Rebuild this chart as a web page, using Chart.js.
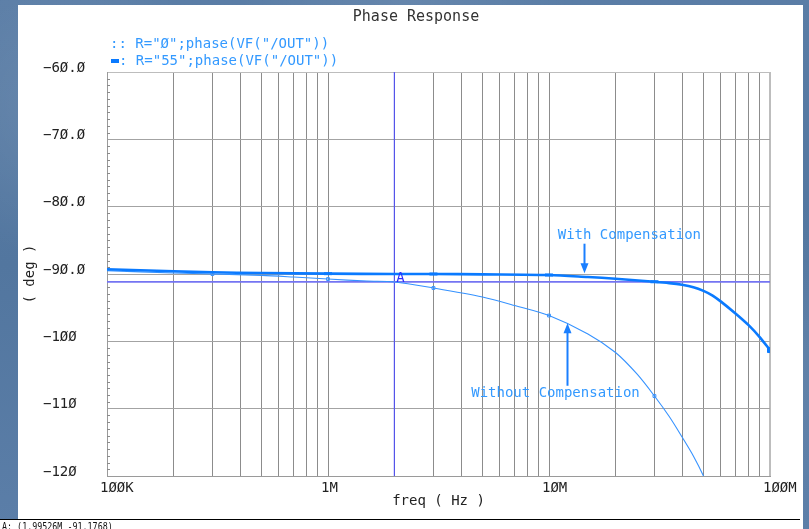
<!DOCTYPE html>
<html>
<head>
<meta charset="utf-8">
<script src="https://cdn.jsdelivr.net/npm/chart.js@4.4.1/dist/chart.umd.min.js"></script>
<style>
  html, body { margin: 0; padding: 0; width: 809px; height: 529px; overflow: hidden; }
  body {
    background:
      radial-gradient(circle at 8% 20%, rgba(255,255,255,0.10), rgba(255,255,255,0) 18%),
      radial-gradient(circle at 95% 70%, rgba(255,255,255,0.08), rgba(255,255,255,0) 20%),
      radial-gradient(circle at 50% 0%, rgba(255,255,255,0.07), rgba(255,255,255,0) 25%),
      linear-gradient(180deg, #5a7da6 0%, #52769f 50%, #5b7ea8 100%);
  }
  canvas { position: absolute; left: 0; top: 0; }
</style>
</head>
<body>
<canvas id="c" width="809" height="529"></canvas>
<script>
// Phase of V(/OUT) for the two resistor values, degrees versus frequency in Hz
const freqWith = [1e5, 2e5, 3e5, 5e5, 1e6, 2e6, 3e6, 5e6, 1e7, 1.5e7, 2e7, 3e7, 3.5e7, 4e7, 4.5e7, 5e7, 5.5e7, 6e7, 7e7, 8e7, 9e7, 1e8];
const phaseWith = [-89.3, -89.6, -89.75, -89.85, -89.95, -90.0, -90.0, -90.05, -90.15, -90.45, -90.7, -91.15, -91.35, -91.6, -91.95, -92.5, -93.2, -94.1, -95.9, -97.6, -99.4, -101.3];

const freqWithout = [1e5, 2e5, 3e5, 5e5, 7e5, 1e6, 1.5e6, 2e6, 3e6, 5e6, 7e6, 1e7, 1.5e7, 2e7, 2.5e7, 3e7, 3.5e7, 4e7, 4.5e7, 5e7, 5.5e7];
const phaseWithout = [-89.5, -89.85, -90.0, -90.2, -90.45, -90.75, -91.05, -91.18, -92.08, -93.42, -94.68, -96.17, -98.9, -101.66, -104.85, -108.12, -111.17, -114.21, -117.03, -120.0, -123.2];

// frequencies that carry a symbol on each trace
const markersWith = [1e6, 3e6, 1e7, 3e7];
const endMarkerWith = [1e8];
const markersWithout = [3e5, 1e6, 3e6, 1e7, 3e7];

const seriesLabels = ['R="Ø";phase(VF("/OUT"))', 'R="55";phase(VF("/OUT"))'];

// axis ticks
const xTickValues = [1e5, 1e6, 1e7, 1e8];
const xTickLabels = ['1ØØK', '1M', '1ØM', '1ØØM'];
const yTickValues = [-60, -70, -80, -90, -100, -110, -120];
const yTickLabels = ['−6Ø.Ø', '−7Ø.Ø', '−8Ø.Ø', '−9Ø.Ø', '−1ØØ', '−11Ø', '−12Ø'];

// cursor A
const cursorFreq = 1.99526e6;
const cursorPhase = -91.1768;
const cursorReadout = 'A: (1.99526M -91.1768)';

// callouts, placed in data units
const callouts = [
  { text: 'With Compensation', textFreq: 2.31e7, textPhase: -84.2, arrowFreq: 1.44e7, fromPhase: -85.5, toPhase: -89.9 },
  { text: 'Without Compensation', textFreq: 1.07e7, textPhase: -107.7, arrowFreq: 1.21e7, fromPhase: -106.6, toPhase: -97.3 }
];

const MONO = '"DejaVu Sans Mono", monospace';
const COL_THICK = '#0a7aff';
const COL_THIN = '#3592ff';
const COL_TEXT = '#3399ff';

// log grid: every integer multiple within each decade
const gridFreqs = [];
for (let d = 1e5; d < 1e8; d *= 10) {
  for (let m = 1; m <= 9; m++) gridFreqs.push(m * d);
}
gridFreqs.push(1e8);

const pts = (xs, ys) => xs.map((x, i) => ({ x: x, y: ys[i] }));
const near = (list, v) => list.some(f => Math.abs(f - v) / f < 1e-6);

const panelPlugin = {
  id: 'panel',
  beforeDraw(chart) {
    const c = chart.ctx;
    c.save();
    c.fillStyle = '#ffffff';
    c.fillRect(18, 5, 785, 515);
    c.fillRect(0, 519, 803, 10);
    c.strokeStyle = '#000000';
    c.lineWidth = 1;
    c.beginPath();
    c.moveTo(0, 519.5);
    c.lineTo(800, 519.5);
    c.stroke();
    c.restore();
  },
  beforeDatasetsDraw(chart) {
    // minor degree ticks along the left edge
    const c = chart.ctx, y = chart.scales.y, left = chart.chartArea.left;
    c.save();
    c.strokeStyle = '#8a8a8a';
    c.lineWidth = 1;
    for (let v = -119; v < -60; v++) {
      if (v % 10 === 0) continue;
      const py = Math.round(y.getPixelForValue(v)) + 0.5;
      c.beginPath();
      c.moveTo(left, py);
      c.lineTo(left + 3, py);
      c.stroke();
    }
    c.restore();
  },
  afterDraw(chart) {
    const c = chart.ctx, xs = chart.scales.x, ys = chart.scales.y;
    c.save();
    // title
    c.fillStyle = '#333333';
    c.font = '15px ' + MONO;
    c.textAlign = 'center';
    c.textBaseline = 'middle';
    c.fillText('Phase Response', 416, 17);

    // series key
    c.font = '14px ' + MONO;
    c.textAlign = 'left';
    c.fillStyle = COL_TEXT;
    c.fillText(':: ' + seriesLabels[0], 110, 44);
    c.fillStyle = COL_THICK;
    c.fillRect(111, 59, 8, 4);
    c.fillStyle = COL_TEXT;
    c.fillText(': ' + seriesLabels[1], 119, 61);

    // y axis title
    c.save();
    c.fillStyle = '#222222';
    c.font = '14px ' + MONO;
    c.translate(30, (chart.chartArea.top + chart.chartArea.bottom) / 2);
    c.rotate(-Math.PI / 2);
    c.textAlign = 'center';
    c.textBaseline = 'middle';
    c.fillText('( deg )', 0, 0);
    c.restore();

    // cursor tag
    const cx = xs.getPixelForValue(cursorFreq), cy = ys.getPixelForValue(cursorPhase);
    c.fillStyle = '#2b2bff';
    c.font = '14px ' + MONO;
    c.textAlign = 'left';
    c.textBaseline = 'alphabetic';
    c.fillText('A', cx + 2, cy);

    // callouts
    callouts.forEach(a => {
      const tx = xs.getPixelForValue(a.textFreq), ty = ys.getPixelForValue(a.textPhase);
      c.fillStyle = COL_TEXT;
      c.font = '14px ' + MONO;
      c.textAlign = 'center';
      c.textBaseline = 'middle';
      c.fillText(a.text, tx, ty);
      const ax = Math.round(xs.getPixelForValue(a.arrowFreq)) + 0.5;
      const y0 = ys.getPixelForValue(a.fromPhase), y1 = ys.getPixelForValue(a.toPhase);
      const dir = y1 > y0 ? 1 : -1;
      c.strokeStyle = '#1a7fff';
      c.fillStyle = '#1a7fff';
      c.lineWidth = 2;
      c.beginPath();
      c.moveTo(ax, y0);
      c.lineTo(ax, y1 - dir * 8);
      c.stroke();
      c.beginPath();
      c.moveTo(ax, y1);
      c.lineTo(ax - 4, y1 - dir * 10);
      c.lineTo(ax + 4, y1 - dir * 10);
      c.closePath();
      c.fill();
    });

    // cursor readout strip
    c.save();
    c.fillStyle = '#111111';
    c.font = '11px ' + MONO;
    c.textAlign = 'left';
    c.textBaseline = 'alphabetic';
    c.scale(0.76, 1);
    c.fillText(cursorReadout, 2 / 0.76, 530);
    c.restore();
    c.restore();
  }
};

new Chart(document.getElementById('c'), {
  type: 'line',
  data: {
    datasets: [
      {
        label: seriesLabels[1],
        data: pts(freqWith, phaseWith),
        borderColor: COL_THICK,
        backgroundColor: COL_THICK,
        borderWidth: 2.6,
        tension: 0.3,
        pointStyle: ctx => near(endMarkerWith, ctx.raw.x) ? 'rect' : 'line',
        pointRadius: ctx => near(endMarkerWith, ctx.raw.x) ? 3.5 : (near(markersWith, ctx.raw.x) ? 4 : 0),
        pointBorderWidth: ctx => near(endMarkerWith, ctx.raw.x) ? 1 : 3,
        pointBorderColor: COL_THICK,
        pointBackgroundColor: COL_THICK
      },
      {
        label: seriesLabels[0],
        data: pts(freqWithout, phaseWithout),
        borderColor: COL_THIN,
        backgroundColor: COL_THIN,
        borderWidth: 1.1,
        tension: 0.3,
        pointStyle: 'rect',
        pointRadius: ctx => near(markersWithout, ctx.raw.x) ? 2 : 0,
        pointBorderWidth: 1,
        pointBorderColor: COL_THIN,
        pointBackgroundColor: 'rgba(255,255,255,0)'
      },
      {
        label: 'A-h',
        data: [{ x: 1e5, y: cursorPhase }, { x: 1e8, y: cursorPhase }],
        borderColor: '#7474f2',
        borderWidth: 1.6,
        pointRadius: 0
      },
      {
        label: 'A-v',
        data: [{ x: cursorFreq, y: -120 }, { x: cursorFreq, y: -60 }],
        borderColor: '#4646ff',
        borderWidth: 1,
        pointRadius: 0
      }
    ]
  },
  options: {
    responsive: false,
    animation: false,
    events: [],
    devicePixelRatio: 1,
    layout: { autoPadding: false, padding: { top: 72, left: 43, right: 39, bottom: 10 } },
    plugins: { legend: { display: false }, title: { display: false }, tooltip: { enabled: false } },
    scales: {
      x: {
        type: 'logarithmic',
        min: 1e5,
        max: 1e8,
        afterBuildTicks: s => { s.ticks = gridFreqs.map(v => ({ value: v })); },
        afterFit: s => { s.height = 43; },
        grid: {
          drawTicks: false,
          color: ctx => (ctx.tick && ctx.tick.value >= 1e8) ? '#bdbdbd' : '#8c8c8c',
          lineWidth: ctx => (ctx.tick && ctx.tick.value >= 1e8) ? 2 : 1
        },
        border: { display: true, color: '#9a9a9a', width: 1 },
        ticks: {
          autoSkip: false,
          maxRotation: 0,
          align: 'start',
          labelOffset: -7,
          padding: 4,
          color: '#222222',
          font: { family: MONO, size: 14 },
          callback: v => {
            const i = xTickValues.findIndex(t => Math.abs(t - v) / t < 1e-6);
            return i >= 0 ? xTickLabels[i] : '';
          }
        },
        title: {
          display: true,
          text: 'freq ( Hz )',
          color: '#222222',
          font: { family: MONO, size: 14 },
          padding: { top: 0, bottom: 9 }
        }
      },
      y: {
        type: 'linear',
        min: -120,
        max: -60,
        afterBuildTicks: s => { s.ticks = yTickValues.map(v => ({ value: v })); },
        afterFit: s => { s.width = 64; },
        grid: {
          drawTicks: false,
          color: ctx => (ctx.tick && ctx.tick.value === -60) ? '#bdbdbd' : '#a3a3a3',
          lineWidth: 1
        },
        border: { display: true, color: '#9a9a9a', width: 1 },
        ticks: {
          crossAlign: 'far',
          labelOffset: -4,
          padding: 0,
          color: '#222222',
          font: { family: MONO, size: 14 },
          callback: v => {
            const i = yTickValues.indexOf(v);
            return i >= 0 ? yTickLabels[i] : '';
          }
        }
      }
    }
  },
  plugins: [panelPlugin]
});
</script>
</body>
</html>
